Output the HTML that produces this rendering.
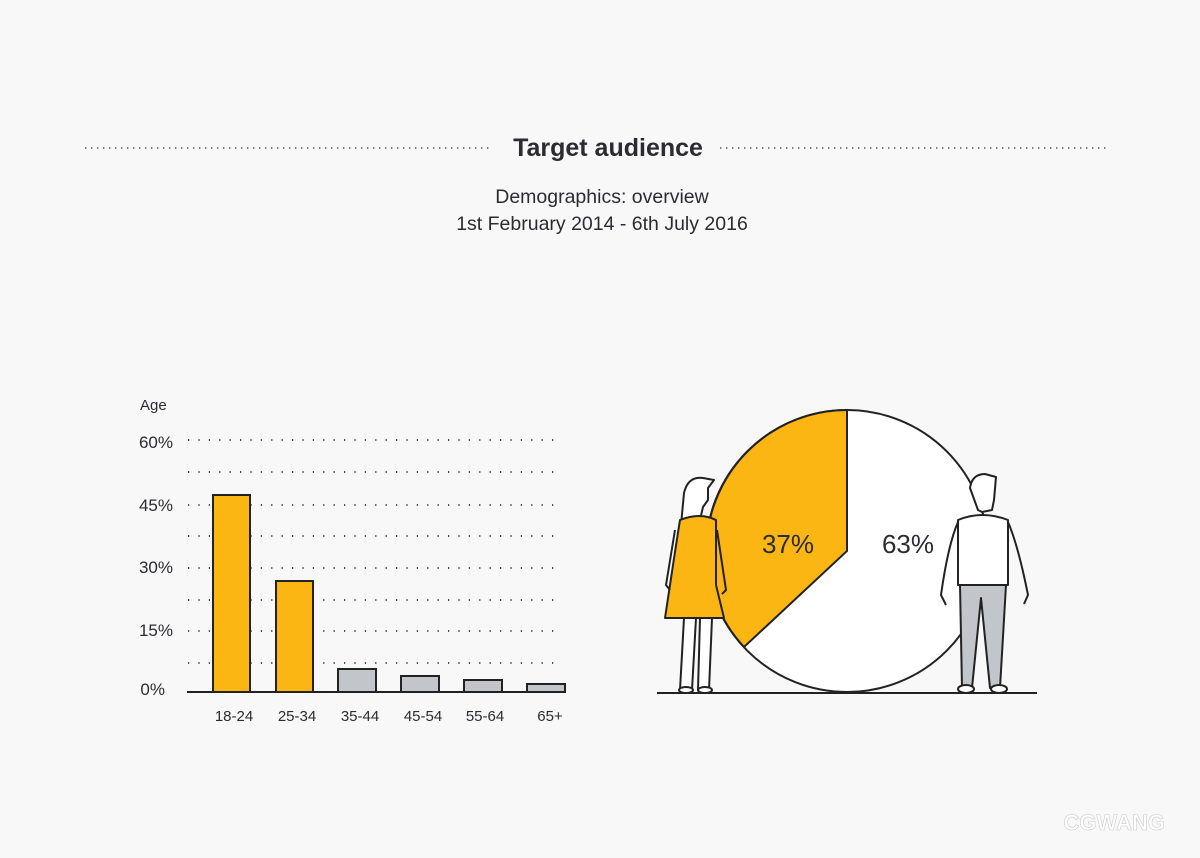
<!DOCTYPE html>
<html><head><meta charset="utf-8"><style>
body{margin:0;background:#f8f8f8;}
svg{display:block}
text{font-family:"Liberation Sans",sans-serif;fill:#2b2b33}
</style></head><body>
<svg width="1200" height="858" viewBox="0 0 1200 858">
<rect width="1200" height="858" fill="#f8f8f8"/>
<g stroke="#555" stroke-width="1.6" stroke-dasharray="1.4 4.6">
<line x1="85" y1="148" x2="493" y2="148"/>
<line x1="720" y1="148" x2="1110" y2="148"/>
</g>
<text x="608" y="156" font-size="25" font-weight="bold" text-anchor="middle">Target audience</text>
<text x="602" y="203" font-size="19.5" text-anchor="middle">Demographics: overview</text>
<text x="602" y="230" font-size="19.5" text-anchor="middle">1st February 2014 - 6th July 2016</text>
<text x="140" y="410" font-size="15">Age</text>
<g font-size="17" text-anchor="end">
<text x="173" y="448">60%</text><text x="173" y="511">45%</text><text x="173" y="573">30%</text><text x="173" y="636">15%</text><text x="165" y="695">0%</text>
</g>
<g stroke="#333" stroke-width="1.8" stroke-dasharray="1.2 9.2">
<line x1="188" y1="440" x2="560" y2="440"/><line x1="188" y1="472" x2="560" y2="472"/><line x1="188" y1="505" x2="560" y2="505"/><line x1="188" y1="536" x2="560" y2="536"/><line x1="188" y1="568" x2="560" y2="568"/><line x1="188" y1="600" x2="560" y2="600"/><line x1="188" y1="631" x2="560" y2="631"/><line x1="188" y1="663" x2="560" y2="663"/>
</g>
<g stroke="#222" stroke-width="2">
<rect x="213" y="495" width="37" height="197" fill="#fbb614"/>
<rect x="276" y="581" width="37" height="111" fill="#fbb614"/>
<rect x="338" y="669" width="38" height="23" fill="#c2c6cb"/>
<rect x="401" y="676" width="38" height="16" fill="#c2c6cb"/>
<rect x="464" y="680" width="38" height="12" fill="#c2c6cb"/>
<rect x="527" y="684" width="38" height="8" fill="#c2c6cb"/>
<line x1="187" y1="692" x2="566" y2="692"/>
</g>
<g font-size="15" text-anchor="middle">
<text x="234" y="721">18-24</text><text x="297" y="721">25-34</text><text x="360" y="721">35-44</text><text x="423" y="721">45-54</text><text x="485" y="721">55-64</text><text x="550" y="721">65+</text>
</g>
<circle cx="847" cy="551" r="141" fill="#fff" stroke="#222" stroke-width="2"/>
<path d="M847 551 L847 410 A141 141 0 0 0 744 647 Z" fill="#fbb614" stroke="#222" stroke-width="2"/>
<text x="788" y="553" font-size="26" text-anchor="middle">37%</text>
<text x="908" y="553" font-size="26" text-anchor="middle">63%</text>
<line x1="657" y1="693" x2="1037" y2="693" stroke="#222" stroke-width="2"/>
<g stroke="#222" stroke-width="2" stroke-linejoin="round">
<path d="M684 493 Q688 476 703 478 L714 480 L708 488 L708 500 L703 507 L700 520 L681 525 Z" fill="#fff"/>
<path d="M680 690 L684 618 L696 618 L692 690 Z M698 690 L700 618 L712 618 L709 690 Z" fill="#fff"/>
<path d="M680 520 Q676 545 670 585 L665 618 L724 618 L716 585 L716 520 Q700 512 680 520 Z" fill="#fbb614"/>
<path d="M675 530 L666 585 L670 590 M717 530 L726 590 L722 594" fill="none"/>
<ellipse cx="686" cy="690" rx="7" ry="3" fill="#fff"/><ellipse cx="705" cy="690" rx="7" ry="3" fill="#fff"/>
</g>
<g stroke="#222" stroke-width="2" stroke-linejoin="round">
<path d="M970 488 Q972 474 985 474 L996 477 L994 500 L992 510 L982 512 L978 510 Z" fill="#fff"/>
<path d="M960 585 L962 688 L972 688 L981 598 L990 688 L1000 688 L1006 585 Z" fill="#c2c6cb"/>
<path d="M958 520 Q982 510 1008 520 L1008 585 L958 585 Z" fill="#fff"/>
<path d="M958 522 Q948 545 941 595 L946 605 M1008 522 Q1018 545 1028 595 L1024 604" fill="none"/>
<ellipse cx="966" cy="689" rx="8" ry="4" fill="#fff"/><ellipse cx="999" cy="689" rx="8" ry="4" fill="#fff"/>
</g>
<text x="1165" y="830" font-size="22" font-weight="bold" text-anchor="end" style="fill:#fff;stroke:#ccc;stroke-width:.6">CGWANG</text>
</svg>
</body></html>
